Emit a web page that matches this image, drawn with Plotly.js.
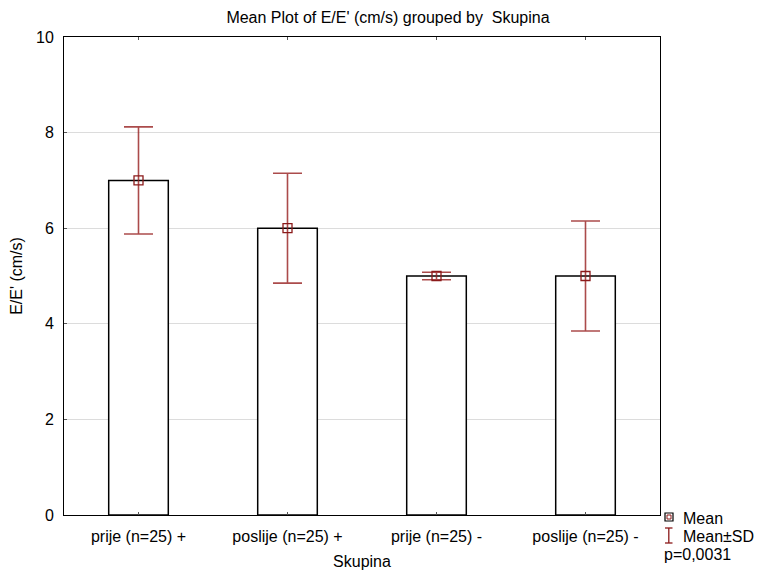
<!DOCTYPE html>
<html><head><meta charset="utf-8">
<script src="https://cdn.plot.ly/plotly-3.0.1.min.js"></script>
<style>html,body{margin:0;padding:0;background:#fff}#c{width:757px;height:570px}</style>
</head><body><div id="c"></div>
<script>
var categories = ['prije (n=25) +', 'poslije (n=25) +', 'prije (n=25) -', 'poslije (n=25) -'];
var means = [7.0, 6.0, 5.0, 5.0];
var sds = [1.12, 1.15, 0.08, 1.15];
var yTicks = [0, 2, 4, 6, 8, 10];

var W = 757, H = 570, L = 64, R = 97, T = 37, B = 55;
var pw = W - L - R, ph = H - T - B;
function px(x){ return (x - L) / pw; }
function py(y){ return (H - B - y) / ph; }

var red = '#8b1a1a';
var font = 'Liberation Sans, Arial, sans-serif';
var fs = 16;

var bars = {
  type: 'bar', x: categories, y: means, width: 0.4,
  marker: {color: '#ffffff', line: {color: '#000000', width: 1.5}},
  hoverinfo: 'skip', showlegend: false
};
var pts = {
  type: 'scatter', mode: 'markers', x: categories, y: means,
  marker: {symbol: 'square-open', size: 9, color: red, line: {width: 1.3, color: red}},
  error_y: {type: 'data', array: sds, visible: true, color: 'rgba(150,30,30,0.8)', thickness: 1.6, width: 14.5},
  showlegend: false
};

var shapes = [
  {type:'rect', xref:'paper', yref:'paper', x0:px(665), x1:px(673), y0:py(521), y1:py(513), line:{color:'#000', width:1.2}, fillcolor:'#fff'},
  {type:'rect', xref:'paper', yref:'paper', x0:px(667), x1:px(671), y0:py(519), y1:py(515), line:{color:red, width:1}},
  {type:'line', xref:'paper', yref:'paper', x0:px(668.8), x1:px(668.8), y0:py(528), y1:py(543), line:{color:red, width:1.3}},
  {type:'line', xref:'paper', yref:'paper', x0:px(665), x1:px(672.5), y0:py(528), y1:py(528), line:{color:red, width:1.3}},
  {type:'line', xref:'paper', yref:'paper', x0:px(665), x1:px(672.5), y0:py(543), y1:py(543), line:{color:red, width:1.3}}
];
var annotations = [
  {xref:'paper', yref:'paper', x:px(681), y:py(518), xanchor:'left', yanchor:'middle', text:'Mean', showarrow:false, font:{family:font, size:fs, color:'#000'}},
  {xref:'paper', yref:'paper', x:px(681), y:py(536), xanchor:'left', yanchor:'middle', text:'Mean±SD', showarrow:false, font:{family:font, size:fs, color:'#000'}},
  {xref:'paper', yref:'paper', x:px(662), y:py(554), xanchor:'left', yanchor:'middle', text:'p=0,0031', showarrow:false, font:{family:font, size:fs, color:'#000'}}
];

var layout = {
  width: W, height: H,
  margin: {l: L, r: R, t: T, b: B, pad: 0},
  paper_bgcolor: '#fff', plot_bgcolor: '#fff',
  font: {family: font, size: fs, color: '#000'},
  title: {text: 'Mean Plot of E/E\' (cm/s) grouped by  Skupina', x: px(388), xref: 'paper', xanchor: 'center', y: 1 - 17/H, yanchor: 'middle', font: {family: font, size: fs, color: '#000'}},
  xaxis: {
    type: 'category', range: [-0.5, 3.5], showline: true, mirror: 'ticks', linecolor: '#000', linewidth: 1,
    ticks: 'inside', ticklen: 3, tickcolor: '#555', showgrid: false, zeroline: false,
    tickfont: {family: font, size: fs}, ticklabelstandoff: 7,
    title: {text: 'Skupina', standoff: 12, font: {family: font, size: fs}}
  },
  yaxis: {
    range: [0, 10], tickvals: yTicks, showline: true, mirror: true, linecolor: '#000', linewidth: 1,
    ticks: 'inside', ticklen: 3, tickcolor: '#555', showgrid: true, gridcolor: '#dcdcdc', gridwidth: 1, zeroline: false,
    tickfont: {family: font, size: fs}, ticklabelstandoff: 6,
    title: {text: 'E/E\' (cm/s)', standoff: 9, font: {family: font, size: fs}}
  },
  shapes: shapes, annotations: annotations, showlegend: false
};
Plotly.newPlot('c', [bars, pts], layout, {displayModeBar: false, staticPlot: true});
</script></body></html>
